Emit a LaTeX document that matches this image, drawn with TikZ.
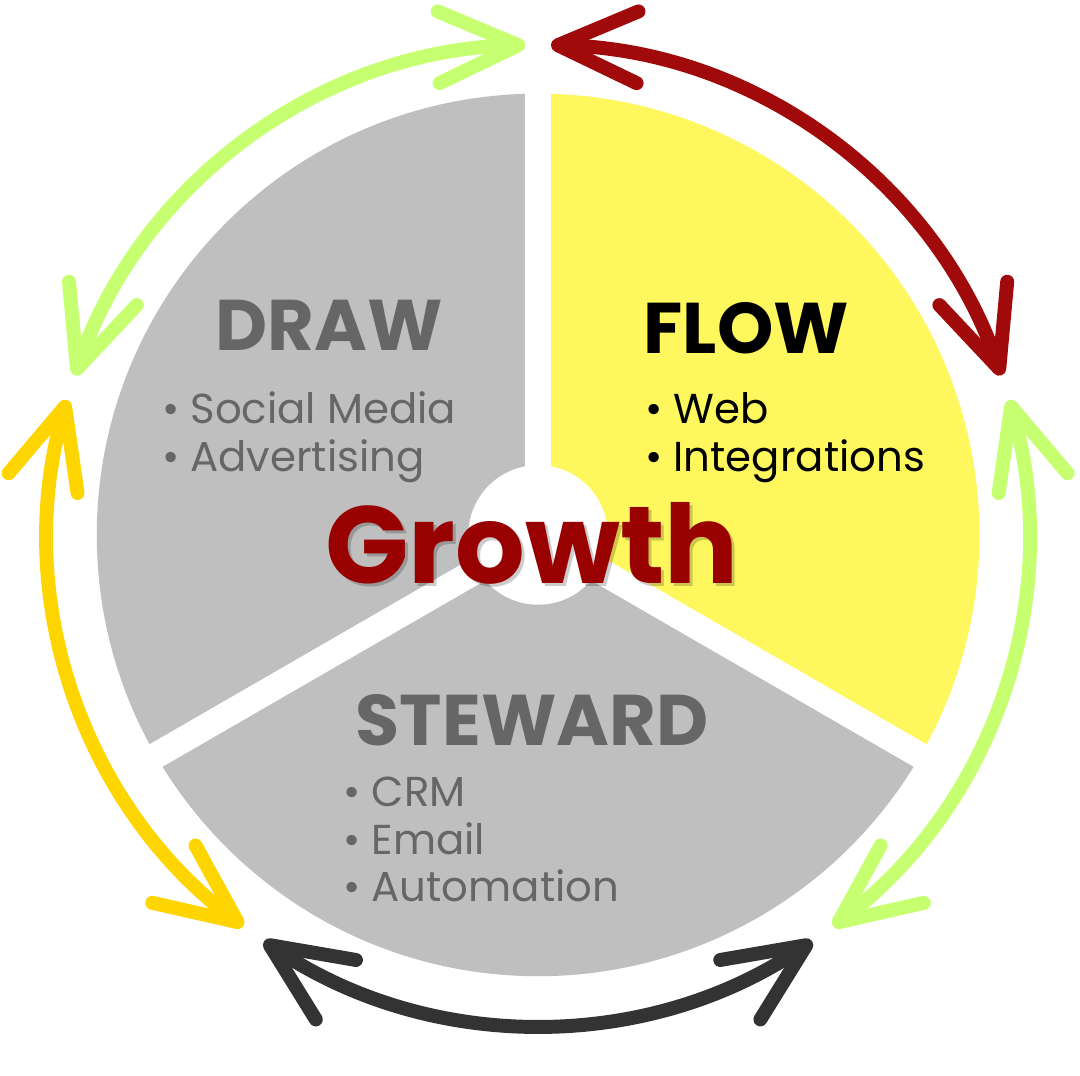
\documentclass[tikz,border=0pt]{standalone}
\usepackage{fontspec}
\setmainfont{Poppins}
\usetikzlibrary{arrows.meta}
\definecolor{secY}{HTML}{FFF75E}
\definecolor{secG}{HTML}{BFBFBF}
\definecolor{aG}{HTML}{C6FF70}
\definecolor{aR}{HTML}{A00A0A}
\definecolor{aK}{HTML}{333333}
\definecolor{aY}{HTML}{FFD500}
\definecolor{txtG}{HTML}{666666}
\definecolor{grw}{HTML}{990000}
\begin{document}
\begin{tikzpicture}[x=1pt,y=1pt,
  arr/.style={line width=14pt,line cap=round,
    {Straight Barb[length=80pt,width=72pt,round]}-{Straight Barb[length=80pt,width=72pt,round]}},
  head/.style={font=\fontsize{72}{80}\selectfont\bfseries,anchor=base},
  item/.style={font=\fontsize{42}{48}\selectfont,anchor=base west},
  gap/.style={white,line width=26pt}]
\fill[white] (0,0) rectangle (1080,1080);
\coordinate (C) at (536,543);
\fill[secY] (C) -- ++(-30:443pt) arc (-30:90:443pt) -- cycle;
\fill[secG] (C) -- ++(90:443pt) arc (90:330:443pt) -- cycle;
\draw[gap] (C) -- ++(90:460pt);
\draw[gap] (C) -- ++(210:460pt);
\draw[gap] (C) -- ++(330:460pt);
\fill[white] (C) circle (70pt);
% arrows
\draw[arr,aG] ([shift={(91.5:492pt)}]C) arc (91.5:161:492pt);
\draw[arr,aR] ([shift={(88.5:492pt)}]C) arc (88.5:19:492pt);
\draw[arr,aG] ([shift={(16:492pt)}]C) arc (16:-53:492pt);
\draw[arr,aK] ([shift={(-56:492pt)}]C) arc (-56:-124:492pt);
\draw[arr,aY] ([shift={(-127:492pt)}]C) arc (-127:-196:492pt);
% texts
\node[head,text=txtG] (draw) at (326,728) {DRAW};
\node[item,text=txtG] (d1) at (155,655) {• Social Media};
\node[item,text=txtG] (d2) at (155,607) {• Advertising};
\node[head,text=black] (flow) at (745,725) {FLOW};
\node[item,text=black] (f1) at (640,655) {• Web};
\node[item,text=black] (f2) at (640,607) {• Integrations};
\node[head,text=txtG] (stew) at (530,332) {STEWARD};
\node[item,text=txtG] (s1) at (337,270) {• CRM};
\node[item,text=txtG] (s2) at (337,222) {• Email};
\node[item,text=txtG] (s3) at (337,175) {• Automation};
\node[font=\fontsize{110}{116}\selectfont\bfseries,anchor=base,text=black,opacity=0.2] at (533,491) {Growth};
\node[font=\fontsize{110}{116}\selectfont\bfseries,anchor=base,text=grw] (g) at (530,494) {Growth};
\end{tikzpicture}
\end{document}
